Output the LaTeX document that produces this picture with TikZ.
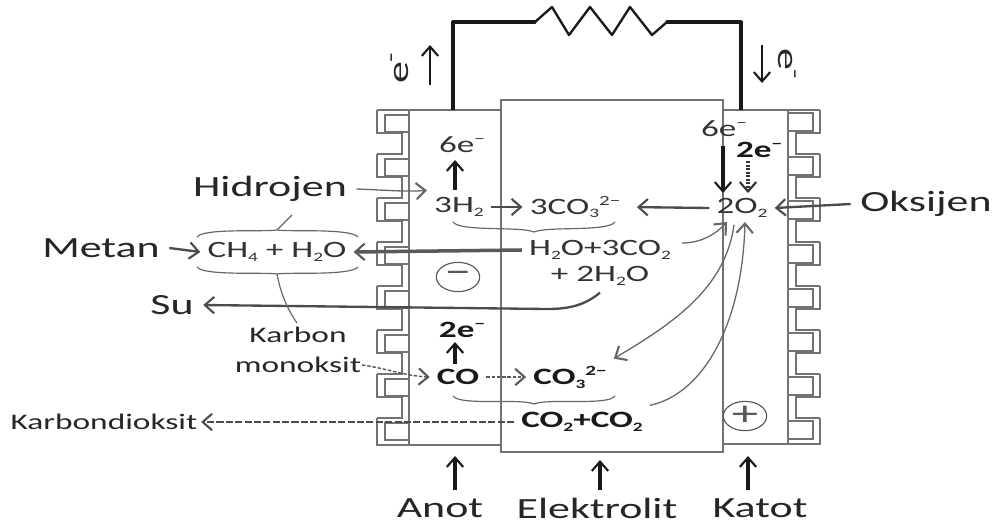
\documentclass[tikz,border=0pt]{standalone}
\usepackage{fontspec}
\usepackage{xcolor}
\setmainfont[FakeStretch=1.5]{Carlito}
\usetikzlibrary{arrows.meta,positioning,calc,shapes.geometric}
\newcommand{\lo}[1]{\raisebox{-3pt}{\fontsize{11}{11}\selectfont #1}}
\newcommand{\up}[1]{\raisebox{8pt}{\fontsize{12}{12}\selectfont #1}}

\begin{document}
\begin{tikzpicture}[x=0.03cm, y=-0.03cm, >={Straight Barb[length=8pt,width=14pt,line width=1.8pt]}]
        \tikzstyle{biglabel} = [inner sep=8pt, text=black!85, font=\fontsize{25}{28}\selectfont]
        \tikzstyle{midlabel} = [inner sep=3pt, text=black!85, font=\fontsize{19}{26}\selectfont, align=center]
        \tikzstyle{chem} = [inner sep=6pt, text=black!80, font=\fontsize{20}{26}\selectfont, align=center]
        \tikzstyle{boldchem} = [inner sep=6pt, text=black!90, font=\bfseries\fontsize{20}{26}\selectfont]
        \tikzstyle{wall} = [draw=black!55, line width=1.4pt]
        \tikzstyle{wire} = [draw=black!90, line cap=round, line join=round]
        \tikzstyle{line} = [draw=black!70, ->, line width=2pt]
        \tikzstyle{heavy} = [draw=black!65, ->, line width=3pt]
        \tikzstyle{thinline} = [draw=black!60, ->, line width=1.1pt]
        \tikzstyle{dotline} = [draw=black!65, ->, line width=1.6pt, dash pattern=on 3pt off 1.5pt]
        \tikzstyle{brace} = [draw=black!60, line width=1pt]
        \tikzstyle{sign} = [draw=black!65, ellipse, line width=1pt, minimum width=37pt, minimum height=25pt, inner sep=0pt, text=black!65, font=\fontsize{30}{30}\selectfont]
        \useasboundingbox (0,0) rectangle (998,528);

        % Cell walls
        \draw [wall] (501,100) rectangle (723,452);
        \draw [wall] (501,110) -- (377,110);
        \draw [wall] (501,445) -- (377,445) -- (377,418);
        \draw [wall] (409,110) -- (409,445);
        \draw [wall] (723,110) -- (820,110);
        \draw [wall] (723,444) -- (820,444) -- (820,418);
        \draw [wall] (788,110) -- (788,444);

        % Gas channels
        \foreach \k in {0,...,7} {
            \draw [wall] (409,{115+44*\k}) -- ++(-24,0) -- ++(0,17) -- ++(24,0);
            \draw [wall] (788,{113+44*\k}) -- ++(25,0) -- ++(0,18) -- ++(-25,0);
        }
        \foreach \k in {0,...,6} {
            \draw [wall] (377,{110+44*\k}) -- ++(0,23) -- ++(25,0) -- ++(0,21) -- ++(-25,0);
            \draw [wall] (820,{110+44*\k}) -- ++(0,23) -- ++(-24,0) -- ++(0,21) -- ++(24,0);
        }

        % External circuit
        \coordinate (anowire) at (453,110);
        \coordinate (catwire) at (741,110);
        \draw [wire, line width=2.6pt] (535,22) -- (453,22);
        \draw [wire, line width=2.6pt] (667,22) -- (741,22);
        \draw [wire, line width=4.2pt, line cap=butt] (anowire) -- (453,21);
        \draw [wire, line width=4.2pt, line cap=butt] (catwire) -- (741,21);
        \draw [wire, line width=2pt] (535,22) -- (552,7) -- (569,35) -- (590,7) -- (612,35) -- (630,7) -- (652,35) -- (667,22);
        \node [biglabel, rotate=90] (eleft) at (400,68) {e\textsuperscript{-}};
        \node [biglabel, rotate=-90] (eright) at (787,64) {e\textsuperscript{-}};
        \coordinate (elefta) at (430,85);
        \coordinate (eleftb) at (430,45);
        \coordinate (erighta) at (762,45);
        \coordinate (erightb) at (762,83);
        \path [line, draw=black!90, line width=2.4pt] (elefta) -- (eleftb);
        \path [line, draw=black!90, line width=2.4pt] (erighta) -- (erightb);

        % Upper reaction
        \node [chem] (sixa) at (462,145) {6e\up{−}};
        \node [chem] (hyd) at (459,207) {3H\lo{2}};
        \node [chem] (cothree) at (575,207) {3CO\lo{3}\up{2−}};
        \node [chem] (oxy) at (742,208) {2O\lo{2}};
        \node [chem] (sixc) at (724,129) {6e\up{−}};
        \node [boldchem] (twoc) at (759,150) {2e\up{−}};
        \node [chem] (water) at (600,250) {H\lo{2}O+3CO\lo{2}};
        \node [chem] (waterb) at (600,276) {+ 2H\lo{2}O};
        \node [chem] (methane) at (277,252) {CH\lo{4} + H\lo{2}O};
        \node [biglabel] (hidro) at (270,189) {Hidrojen};
        \node [biglabel] (metan) at (101,248) {Metan};
        \node [biglabel] (oksi) at (926,204) {Oksijen};
        \node [biglabel] (su) at (172,305) {Su};
        \coordinate (oxyin) at (727,222);
        \coordinate (oxyout) at (734,225);
        \coordinate (oxyup) at (745,222);
        \coordinate (wateron) at (682,243);
        \coordinate (wateroff) at (547,309);
        \coordinate (sixlow) at (455,190);
        \coordinate (sixtop) at (455,160);
        \coordinate (sixrtop) at (723,146);
        \coordinate (sixrlow) at (723,193);
        \coordinate (twortop) at (748,161);
        \coordinate (tworlow) at (748,193);

        % Lower reaction
        \node [boldchem] (twoa) at (462,330) {2e\up{−}};
        \node [boldchem] (carbon) at (458,377) {CO};
        \node [boldchem] (cothreeb) at (570,377) {CO\lo{3}\up{2−}};
        \node [boldchem] (cotwo) at (582,422) {CO\lo{2}+CO\lo{2}};
        \node [midlabel] (karbon) at (298,350) {Karbon\\monoksit};
        \node [midlabel] (diok) at (104,422) {Karbondioksit};
        \coordinate (monok) at (362,365);
        \coordinate (twolow) at (455,364);
        \coordinate (twotop) at (455,342);

        % Signs
        \node [sign] (minus) at (458,277) {−};
        \node [sign] (plus) at (745,416) {+};

        % Cell parts
        \node [biglabel] (anot) at (440,508) {Anot};
        \node [biglabel] (elektro) at (597,508) {Elektrolit};
        \node [biglabel] (katot) at (760,508) {Katot};
        \coordinate (anotup) at (455,456);
        \coordinate (elekup) at (600,460);
        \coordinate (katup) at (748,456);
        \coordinate (anotlow) at (455,490);
        \coordinate (eleklow) at (600,490);
        \coordinate (katlow) at (748,490);
        \path [line, draw=black!90, line width=2.6pt] (anotlow) -- (anotup);
        \path [line, draw=black!90, line width=2.6pt] (eleklow) -- (elekup);
        \path [line, draw=black!90, line width=2.6pt] (katlow) -- (katup);

        % Upper paths
        \path [heavy, draw=black!90] (sixlow) -- (sixtop);
        \path [heavy, draw=black!90] (sixrtop) -- (sixrlow);
        \path [heavy, dash pattern=on 2pt off 1pt, draw=black!80] (twortop) -- (tworlow);
        \path [line] (hyd.east) -- (cothree.west);
        \path [line, shorten >=8pt] (oxy.west) -- (cothree.east);
        \path [line] (oksi.west) -- (oxy.east);
        \path [line] (metan.east) -- (methane.west);
        \path [heavy] (water.west) -- (methane.east);
        \path [line] (waterb.south) .. controls (585,305) and (570,309) .. (wateroff) -- (su.east);
        \path [thinline] (hidro.east) .. controls (385,190) and (405,192) .. (hyd.north west);
        \path [thinline] (wateron) .. controls (700,243) and (715,235) .. (oxyin);
        \path [thinline] (oxyout) .. controls (725,290) and (670,325) .. (cothreeb.north east);
        \path [thinline] (cotwo.north east) .. controls (700,395) and (742,330) .. (oxyup);

        % Lower paths
        \path [heavy, draw=black!90] (twolow) -- (twotop);
        \path [dotline] (carbon.east) -- (cothreeb.west);
        \path [dotline, line width=1.2pt] (monok) .. controls (385,368) and (405,376) .. (carbon.west);
        \path [line, dash pattern=on 6pt off 2pt, line width=1.5pt] (cotwo.west) -- (diok.east);

        % Braces and their leaders
        \draw [brace] (453,222) .. controls (460,232) and (520,226) .. (534,232) .. controls (548,226) and (608,232) .. (615,222);
        \draw [brace] (453,396) .. controls (460,406) and (520,398) .. (534,404) .. controls (548,398) and (608,406) .. (615,396);
        \draw [brace] (197,237) .. controls (203,228) and (265,232) .. (277,230) .. controls (290,232) and (350,228) .. (358,237);
        \draw [brace] (197,267) .. controls (203,276) and (265,272) .. (277,274) .. controls (290,272) and (350,276) .. (358,267);
        \draw [brace] (277,230) -- (292,215);
        \draw [brace] (277,274) .. controls (281,295) and (288,310) .. (297,323);
    \end{tikzpicture}
\end{document}
